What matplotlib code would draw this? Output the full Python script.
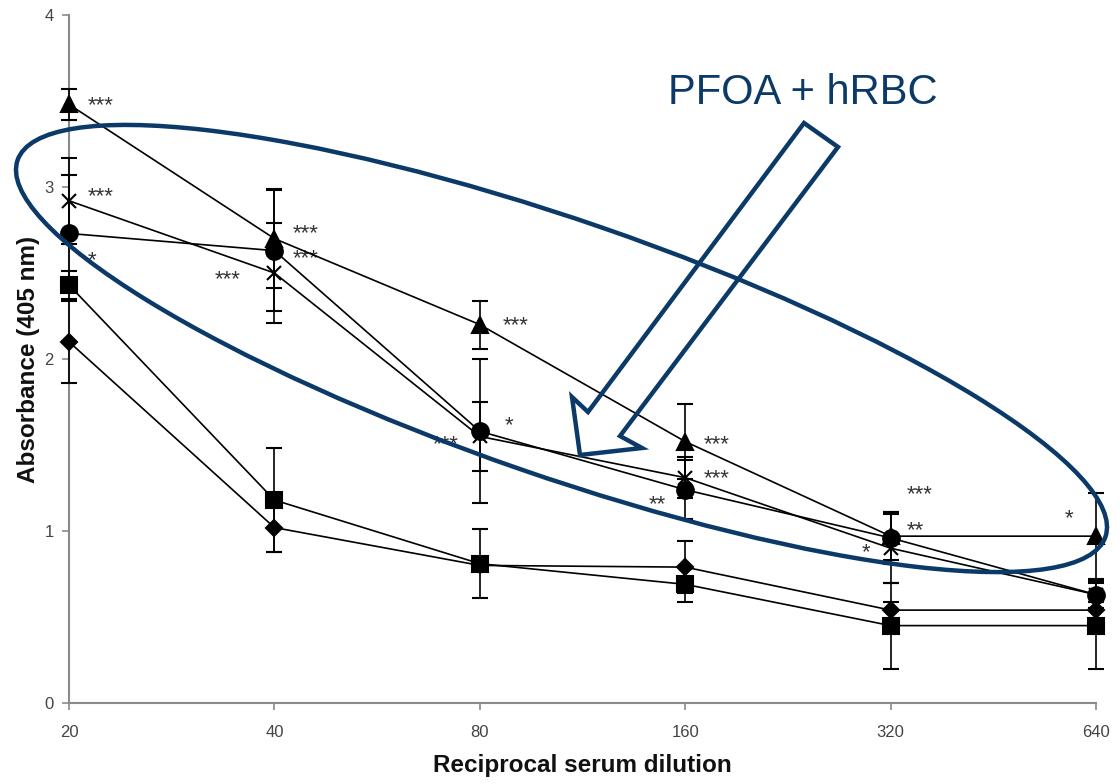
import matplotlib.pyplot as plt
from matplotlib.patches import Ellipse, Polygon

# dilution steps, plotted evenly spaced
dilutions = ["20", "40", "80", "160", "320", "640"]

tri_vals = [3.48, 2.70, 2.20, 1.52, 0.97, 0.97]
tri_err = [0.09, 0.29, 0.14, 0.22, 0.14, 0.25]

x_vals = [2.92, 2.50, 1.55, 1.31, 0.90, 0.63]
x_err = [0.25, 0.29, 0.20, 0.12, 0.20, 0.08]

circ_vals = [2.73, 2.63, 1.58, 1.24, 0.96, 0.63]
circ_err = [0.34, 0.35, 0.42, 0.17, 0.15, 0.08]

sq_vals = [2.43, 1.18, 0.81, 0.69, 0.45, 0.45]
sq_err = [0.08, 0.30, 0.20, 0.10, 0.25, 0.25]

dia_vals = [2.10, 1.02, 0.80, 0.79, 0.54, 0.54]
dia_err = [0.24, 0.14, 0.03, 0.15, 0.05, 0.05]

# significance labels (x index, y, text)
star_x = [0.09, 0.09, 0.09, 1.09, 1.09, 0.71, 2.11, 2.12, 1.77, 3.09, 3.09, 2.82, 4.08, 4.08, 3.86, 4.85]
star_y = [3.50, 2.97, 2.60, 2.76, 2.61, 2.49, 2.22, 1.64, 1.53, 1.53, 1.33, 1.18, 1.24, 1.03, 0.90, 1.10]
star_txt = ["***", "***", "*", "***", "***", "***", "***", "*", "***", "***", "***", "**", "***", "**", "*", "*"]

NAVY = "#0b3a68"
AXIS_GREY = "#8a8a8a"

plt.rcParams["font.family"] = ["Liberation Sans", "DejaVu Sans"]

fig = plt.figure(figsize=(11.2, 7.84), dpi=100)
ax = fig.add_axes([69 / 1120, 81 / 784, 1027 / 1120, 688 / 784])

xs = list(range(len(dilutions)))
series = [
    (tri_vals, tri_err, "^", 12),
    (x_vals, x_err, "x", 10),
    (circ_vals, circ_err, "o", 12),
    (sq_vals, sq_err, "s", 11),
    (dia_vals, dia_err, "D", 8),
]
for vals, err, mk, ms in series:
    ax.errorbar(xs, vals, yerr=err, color="black", lw=1.2, elinewidth=1.2,
                capsize=6, capthick=1.2, marker=mk, ms=ms, mew=1.5,
                zorder=3, clip_on=False)

# stars sit high in the font, so drop the baseline a bit
for sx, sy, st in zip(star_x, star_y, star_txt):
    ax.annotate(st, (sx, sy), xytext=(0, -7.5), textcoords="offset points",
                fontsize=16, color="#333333", ha="left", va="baseline")

ax.set_xlim(0, 5)
ax.set_ylim(0, 4)
ax.set_xticks(xs)
ax.set_xticklabels(dilutions)
ax.set_yticks([0, 1, 2, 3, 4])

for side in ["top", "right"]:
    ax.spines[side].set_visible(False)
for side in ["left", "bottom"]:
    ax.spines[side].set_color(AXIS_GREY)
    ax.spines[side].set_linewidth(1.5)
ax.tick_params(axis="both", colors=AXIS_GREY, labelcolor="#444444",
               labelsize=12, width=1.2, length=5, direction="out")
ax.tick_params(axis="x", pad=11)
ax.tick_params(axis="y", pad=6)

ax.set_xlabel("Reciprocal serum dilution", fontsize=17.5, fontweight="bold",
              color="#111111", labelpad=10)
ax.set_ylabel("Absorbance (405 nm)", fontsize=17.5, fontweight="bold",
              color="#111111", labelpad=3)

# overlay in pixel coords for the ellipse / arrow callout
over = fig.add_axes([0, 0, 1, 1], facecolor="none")
over.set_xlim(0, 1120)
over.set_ylim(784, 0)
over.axis("off")

over.add_patch(Ellipse((561.5, 348.5), 2 * 575.6, 2 * 127.5, angle=19.1,
                       fill=False, ec=NAVY, lw=3.2, zorder=5))

arrow_pts = [(804, 123), (838, 147), (620, 436), (642, 448),
             (580, 455), (572, 397), (588, 412)]
over.add_patch(Polygon(arrow_pts, closed=True, fill=False, ec=NAVY,
                       lw=3.2, joinstyle="miter", zorder=5))

over.text(803, 93, "PFOA + hRBC", fontsize=30, color=NAVY,
          ha="center", va="center")

fig.savefig("out.png", dpi=100)
